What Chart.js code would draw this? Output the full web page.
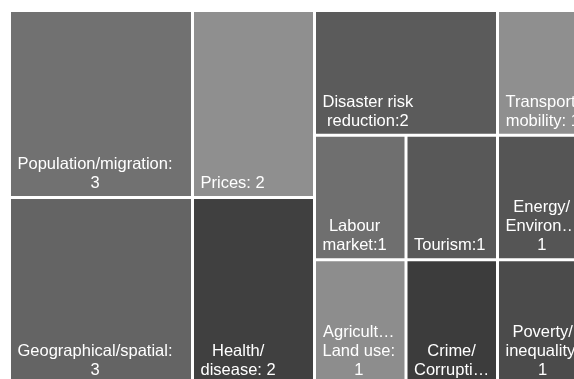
<!DOCTYPE html>
<html>
<head>
<meta charset="utf-8">
<script src="https://cdn.jsdelivr.net/npm/chart.js@4.4.0/dist/chart.umd.min.js"></script>
<style>
  html, body { margin: 0; padding: 0; overflow: hidden; background: #fff; }
  /* the picture is a crop of a slightly bigger treemap, so the canvas runs past the window */
  #wrap { width: 600px; height: 400px; }
</style>
</head>
<body>
<div id="wrap"><canvas id="tree"></canvas></div>
<script>
// topic names (label text before the count) and counts, in layout order
const topics = [
    'Population/migration: ', 'Geographical/spatial: ', 'Prices: ', 'Health/ disease: ',
    'Disaster risk reduction:', 'Transport/ mobility: ', 'Labour market:', 'Agriculture/ Land use: ',
    'Tourism:', 'Energy/ Environment: ', 'Crime/ Corruption:', 'Poverty/ inequality: '
];
const counts = [3, 3, 2, 2, 2, 1, 1, 1, 1, 1, 1, 1];
const shades = [
    '#717171', '#646464', '#8f8f8f', '#404040',
    '#5b5b5b', '#8f8f8f', '#6f6f6f', '#8d8d8d',
    '#585858', '#555555', '#3c3c3c', '#4b4b4b'
];

const SQUARE_RATIO = 0.9;
const FONT = '16.5px "Liberation Sans", Arial, sans-serif';
const LINE_H = 19;

// squarified layout (d3 style) in a box of size w x h
function squarify(values, x0, y0, x1, y1, ratio) {
    const out = [];
    let value = values.reduce((a, b) => a + b, 0);
    let i0 = 0;
    while (i0 < values.length) {
        const dx = x1 - x0, dy = y1 - y0;
        let i1 = i0;
        let sum = values[i1++];
        let minV = sum, maxV = sum;
        const alpha = Math.max(dy / dx, dx / dy) / (value * ratio);
        let beta = sum * sum * alpha;
        let best = Math.max(maxV / beta, beta / minV);
        for (; i1 < values.length; i1++) {
            const v = values[i1];
            const s = sum + v;
            const mn = Math.min(minV, v), mx = Math.max(maxV, v);
            beta = s * s * alpha;
            const r = Math.max(mx / beta, beta / mn);
            if (r > best) break;
            sum = s; minV = mn; maxV = mx; best = r;
        }
        if (dx < dy) {
            // row along the top
            const h = dy * sum / value;
            let x = x0;
            for (let k = i0; k < i1; k++) {
                const w = dx * values[k] / sum;
                out[k] = { x0: x, x1: x + w, y0: y0, y1: y0 + h };
                x += w;
            }
            y0 += h;
        } else {
            // column along the left
            const w = dx * sum / value;
            let y = y0;
            for (let k = i0; k < i1; k++) {
                const h = dy * values[k] / sum;
                out[k] = { x0: x0, x1: x0 + w, y0: y, y1: y + h };
                y += h;
            }
            x0 += w;
        }
        value -= sum;
        i0 = i1;
    }
    return out;
}

// bar controller whose rectangles come from the treemap layout
class TreemapController extends Chart.BarController {
    updateElements(rects, start, count, mode) {
        const meta = this._cachedMeta;
        const xs = meta.xScale, ys = meta.yScale;
        const aspect = (xs.right - xs.left) / (ys.bottom - ys.top);
        const cells = squarify(this.getDataset().data, 0, 0, aspect, 1, SQUARE_RATIO);
        for (let i = start; i < start + count; i++) {
            const c = cells[i];
            const left = xs.getPixelForValue(c.x0 / aspect);
            const right = xs.getPixelForValue(c.x1 / aspect);
            const top = ys.getPixelForValue(c.y0);
            const bottom = ys.getPixelForValue(c.y1);
            this.updateElement(rects[i], i, {
                x: (left + right) / 2,
                y: top,
                base: bottom,
                width: right - left,
                height: bottom - top,
                horizontal: false,
                borderSkipped: {},
                inflateAmount: 0,
                options: this.resolveDataElementOptions(i, rects[i].active ? 'active' : mode)
            }, mode);
        }
    }
}
TreemapController.id = 'treemap';
TreemapController.defaults = Chart.BarController.defaults;
Chart.register(TreemapController);

function wrapLabel(ctx, text, maxW) {
    const words = text.split(' ');
    const lines = [];
    let line = '';
    const fit = (s) => {
        if (ctx.measureText(s).width <= maxW) return s;
        let t = s;
        while (t.length > 1 && ctx.measureText(t + '\u2026').width > maxW) t = t.slice(0, -1);
        return t + '\u2026';
    };
    words.forEach(w => {
        const cand = line ? line + ' ' + w : w;
        if (ctx.measureText(cand).width <= maxW) {
            line = cand;
        } else {
            if (line) lines.push(line);
            line = fit(w);
        }
    });
    if (line) lines.push(line);
    return lines;
}

const cellLabels = {
    id: 'cellLabels',
    afterDatasetsDraw(chart) {
        const ctx = chart.ctx;
        const meta = chart.getDatasetMeta(0);
        ctx.save();
        ctx.font = FONT;
        ctx.fillStyle = '#ffffff';
        ctx.textAlign = 'center';
        ctx.textBaseline = 'alphabetic';
        meta.data.forEach((bar, i) => {
            const { x, base, width } = bar.getProps(['x', 'base', 'width']);
            const left = x - width / 2;
            const lines = wrapLabel(ctx, topics[i] + counts[i], width - 16);
            const blockW = Math.max(...lines.map(l => ctx.measureText(l).width));
            const cx = left + 8 + blockW / 2;
            let ty = base - 9.5 - (lines.length - 1) * LINE_H;
            lines.forEach(l => {
                ctx.fillText(l, cx, ty);
                ty += LINE_H;
            });
        });
        ctx.restore();
    }
};

const ctx = document.getElementById('tree').getContext('2d');
new Chart(ctx, {
    type: 'treemap',
    data: {
        labels: topics,
        datasets: [{
            data: counts,
            backgroundColor: shades,
            borderColor: '#ffffff',
            borderWidth: 1.5
        }]
    },
    options: {
        responsive: true,
        maintainAspectRatio: false,
        animation: false,
        layout: {
            padding: { left: 9.5, top: 10.5, right: 11, bottom: 15.5 }
        },
        scales: {
            x: { type: 'linear', min: 0, max: 1, offset: false, display: false },
            y: { type: 'linear', min: 0, max: 1, reverse: true, offset: false, display: false }
        },
        plugins: {
            legend: { display: false },
            tooltip: { enabled: false }
        }
    },
    plugins: [cellLabels]
});
</script>
</body>
</html>
